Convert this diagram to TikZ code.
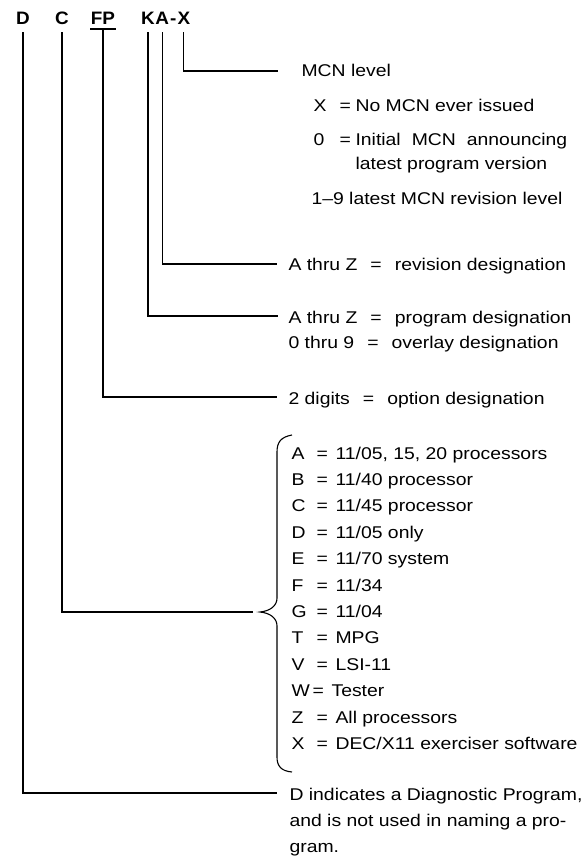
\documentclass[tikz,border=0pt]{standalone}
\usepackage{fontspec}
\setmainfont{Liberation Sans}[FakeStretch=1.14]
\newfontfamily\topfont{Liberation Sans}[FakeStretch=1.05]
\newcommand{\eqgap}{\hspace{13pt}=\hspace{13pt}}
\newcommand{\wgap}{\hspace{11pt}}
\begin{document}
\begin{tikzpicture}[x=1pt,y=-1pt,
  line width=1.1pt,
  top/.style={font=\fontsize{18}{20}\topfont\bfseries, inner sep=0pt, text height=13pt, text depth=0pt},
  txt/.style={font=\fontsize{17}{20}\selectfont, anchor=west, inner sep=0pt, text height=12pt, text depth=0pt},
  lead/.style={line width=1.1pt},
  gap/.style={yshift=-7pt}]
\useasboundingbox (0,0) rectangle (588,858);

% top code letters
\node[top] (D) at (23,18) {D};
\node[top] (C) at (62,18) {C};
\node[top] (FP) at (103,18) {FP};
\node[top] (K) at (148,18) {K};
\node[top,anchor=west] (A) at ([xshift=-0.5pt]K.east) {A};
\node[top,anchor=west] (hy) at (A.east) {-};
\node[top,anchor=west] (X) at (hy.east) {X};

% right-hand texts
\node[txt] (mcn) at (301,71) {MCN level};
\node[txt] (xs) at (313,106) {X};
\node[txt] (xe) at (339,106) {=};
\node[txt] (xv) at (355,106) {No MCN ever issued};
\node[txt] (zs) at (313,140) {0};
\node[txt] (ze) at (339,140) {=};
\node[txt] (zv) at (355,140) {Initial\wgap MCN\wgap announcing};
\node[txt] (zv2) at (355,164) {latest program version};
\node[txt] (nine) at (311,199) {1–9 latest MCN revision level};
\node[txt] (rev) at (288,265) {A thru Z\eqgap revision designation};
\node[txt] (prog) at (288,317) {A thru Z\eqgap program designation};
\node[txt] (ovl) at (288,342) {0 thru 9\eqgap overlay designation};
\node[txt] (opt) at (288,398) {2 digits\eqgap option designation};

% processor list
\node[txt] (pA) at (291,453.0) {A}; \node[txt] (eqA) at (316,453.0) {=}; \node[txt] (vA) at (335,453.0) {11/05, 15, 20 processors};
\node[txt] (pB) at (291,479.4) {B}; \node[txt] (eqB) at (316,479.4) {=}; \node[txt] (vB) at (335,479.4) {11/40 processor};
\node[txt] (pC) at (291,505.8) {C}; \node[txt] (eqC) at (316,505.8) {=}; \node[txt] (vC) at (335,505.8) {11/45 processor};
\node[txt] (pD) at (291,532.2) {D}; \node[txt] (eqD) at (316,532.2) {=}; \node[txt] (vD) at (335,532.2) {11/05 only};
\node[txt] (pE) at (291,558.6) {E}; \node[txt] (eqE) at (316,558.6) {=}; \node[txt] (vE) at (335,558.6) {11/70 system};
\node[txt] (pF) at (291,585.0) {F}; \node[txt] (eqF) at (316,585.0) {=}; \node[txt] (vF) at (335,585.0) {11/34};
\node[txt] (pG) at (291,611.4) {G}; \node[txt] (eqG) at (316,611.4) {=}; \node[txt] (vG) at (335,611.4) {11/04};
\node[txt] (pT) at (291,637.8) {T}; \node[txt] (eqT) at (316,637.8) {=}; \node[txt] (vT) at (335,637.8) {MPG};
\node[txt] (pV) at (291,664.2) {V}; \node[txt] (eqV) at (316,664.2) {=}; \node[txt] (vV) at (335,664.2) {LSI-11};
\node[txt] (pW) at (291,690.6) {W}; \node[txt] (eqW) at (312,690.6) {=}; \node[txt] (vW) at (331,690.6) {Tester};
\node[txt] (pZ) at (291,717.0) {Z}; \node[txt] (eqZ) at (316,717.0) {=}; \node[txt] (vZ) at (335,717.0) {All processors};
\node[txt] (pX) at (291,743.4) {X}; \node[txt] (eqX) at (316,743.4) {=}; \node[txt] (vX) at (335,743.4) {DEC/X11 exerciser software};

\node[txt] (d1) at (289,794) {D indicates a Diagnostic Program,};
\node[txt] (d2) at (289,820) {and is not used in naming a pro-};
\node[txt] (d3) at (289,846) {gram.};

% leader end points
\coordinate (eX) at (278,71);
\coordinate (eA) at (277,264);
\coordinate (eK) at (278,316);
\coordinate (eFP) at (277,397);
\coordinate (eC) at (253,612);
\coordinate (eD) at (277,793);

% leaders
\draw[lead] ([gap]X.south) |- (eX);
\draw[lead] ([gap]A.south) |- (eA);
\draw[lead] ([gap]K.south) |- (eK);
\draw[lead] ([yshift=-4pt]FP.south west) -- ([yshift=-4pt]FP.south east);
\draw[lead] ([yshift=-4pt]FP.south) |- (eFP);
\draw[lead] ([gap]C.south) |- (eC);
\draw[lead] ([gap]D.south) |- (eD);

% brace
\draw[lead] (292,435) .. controls (281,437) and (277,442) .. (277,452)
  -- (277,598) .. controls (277,606) and (270,611) .. (260,612)
  .. controls (270,613) and (277,618) .. (277,626)
  -- (277,757) .. controls (277,766) and (281,771) .. (292,772);
\end{tikzpicture}
\end{document}
